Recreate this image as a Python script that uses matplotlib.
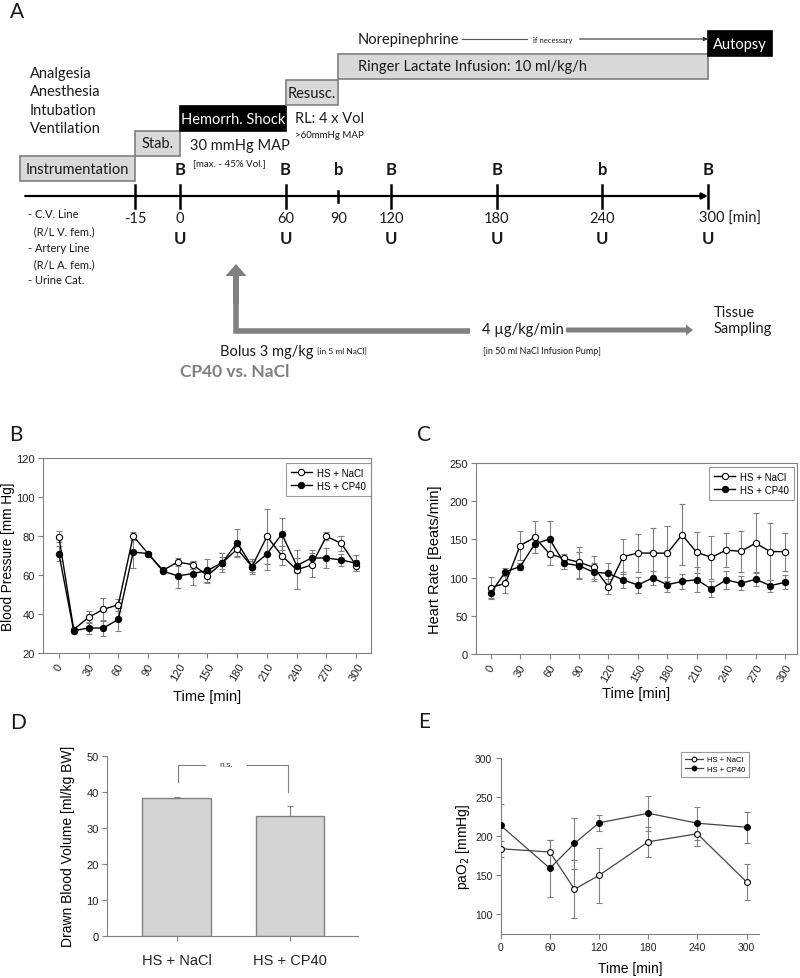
import matplotlib
matplotlib.use("Agg")
import matplotlib.pyplot as plt
from matplotlib.patches import Rectangle, FancyArrow
import numpy as np

# ---------------- panel A: protocol (time axis in minutes) ----------------
tl_pos = [-25.6, 0, 60, 90, 120, 180, 240, 300]  # -15 is drawn off-scale
tl_labels = ["-15", "0", "60", "90", "120", "180", "240", "300 [min]"]
blood_marks = ["", "B", "B", "b", "B", "B", "b", "B"]
urine_marks = ["", "U", "U", "", "U", "U", "U", "U"]

phase_names = ["Instrumentation", "Stab.", "Hemorrh. Shock", "Resusc.",
               "Ringer Lactate Infusion: 10 ml/kg/h", "Autopsy"]
phase_start = [-90.9, -25.6, 0, 60, 90, 300]
phase_end = [-25.6, 0, 60, 90, 300, 336.4]
phase_dark = [False, False, True, False, False, True]

prep_steps = ["Analgesia", "Anesthesia", "Intubation", "Ventilation"]
catheters = ["- C.V. Line", "  (R/L V. fem.)", "- Artery Line", "  (R/L A. fem.)", "- Urine Cat."]

# ---------------- panel B: blood pressure ----------------
bp_time = np.arange(0, 301, 15)
bp_nacl = [79.7, 32, 38.3, 42.4, 44.7, 80, 71, 62.4, 66.6, 65.3, 59.7,
           66.2, 73.3, 64.3, 79.8, 69.9, 62.7, 65.1, 79.8, 76.2, 64.8]
bp_nacl_err = [3, 1, 3, 6, 3, 2, 1, 1, 2, 2, 4, 3, 4, 3, 14, 5, 10, 6, 2, 4, 3]
bp_cp40 = [71, 31.4, 32.8, 32.8, 37.2, 71.7, 71, 62, 59.5, 60.7, 62.3,
           66.3, 76.6, 64.3, 70.8, 81, 64.8, 68.7, 68.7, 67.7, 66]
bp_cp40_err = [4, 1, 3, 4, 6, 8, 1, 1, 6, 6, 6, 5, 7, 4, 8, 8, 4, 4, 5, 3, 4]

# ---------------- panel C: heart rate ----------------
hr_time = np.arange(0, 301, 15)
hr_nacl = [87, 92.5, 142, 152.7, 131, 125, 120, 113.5, 88, 127.4, 132.2,
           132, 132, 156, 133, 126.5, 136, 134.4, 145, 134, 134]
hr_nacl_err = [14, 13, 19, 21, 15, 6, 20, 15, 10, 23, 25, 33, 36, 40, 27, 28, 22, 27, 39, 37, 25]
hr_cp40 = [79.4, 107.7, 114.3, 144, 150.5, 118.7, 115.6, 107, 105.6, 96.9, 90.3,
           99.5, 90.7, 95, 97.3, 85, 96.9, 92.5, 97.8, 89.4, 93.8]
hr_cp40_err = [7, 5, 5, 12, 24, 8, 18, 12, 13, 11, 10, 9, 10, 10, 16, 10, 12, 9, 9, 8, 9]

# ---------------- panel D: drawn blood volume ----------------
bv_groups = ["HS + NaCl", "HS + CP40"]
bv_mean = [38.2, 33.2]
bv_err = [0.4, 2.7]

# ---------------- panel E: paO2 ----------------
po2_time = [0, 60, 90, 120, 180, 240, 300]
po2_nacl = [183.9, 179.7, 132.2, 150, 192.8, 203, 141.5]
po2_nacl_err = [10, 16, 37, 35, 19, 16, 23]
po2_cp40 = [213.6, 158.9, 190.7, 217, 229.2, 216.5, 211.4]
po2_cp40_err = [28, 36, 33, 10, 22, 21, 20]

plt.rcParams["font.family"] = ["Liberation Sans", "DejaVu Sans"]
LATO = ["Lato", "DejaVu Sans"]
GRAY = "#808080"
INK = "#1a1a1a"


def draw_protocol(ax):
    ax.set_xlim(-102.3, 352.3)
    ax.set_ylim(390, 0)
    ax.axis("off")
    rows = [157, 132, 107, 81, 55, 32]
    for name, t0, t1, dark, top in zip(phase_names, phase_start, phase_end, phase_dark, rows):
        ax.add_patch(Rectangle((t0, top), t1 - t0, 25,
                               facecolor="black" if dark else "#d9d9d9",
                               edgecolor="black" if dark else "#7f7f7f", lw=1.2))
        if name.startswith("Ringer"):
            ax.text(t0 + 11, top + 12.5, name, ha="left", va="center",
                    fontsize=10.5, family=LATO, color=INK)
        else:
            ax.text((t0 + t1) / 2, top + 12.5, name, ha="center", va="center",
                    fontsize=10.5, family=LATO, color="white" if dark else INK)

    for i, step in enumerate(prep_steps):
        ax.text(-85.2, 74 + 18.3 * i, step, ha="left", va="center",
                fontsize=10.5, family=LATO, color=INK)

    ax.text(5.7, 146, "30 mmHg MAP", ha="left", va="center", fontsize=10.5, family=LATO, color=INK)
    ax.text(7.4, 164, "[max. - 45% Vol.]", ha="left", va="center", fontsize=7, family=LATO, color=INK)
    ax.text(65.3, 119, "RL: 4 x Vol", ha="left", va="center", fontsize=10.5, family=LATO, color=INK)
    ax.text(65.3, 136, ">60mmHg MAP", ha="left", va="center", fontsize=7, family=LATO, color=INK)

    # norepinephrine
    ax.text(101, 40, "Norepinephrine", ha="left", va="center", fontsize=10.5, family=LATO, color=INK)
    ax.plot([160, 197], [40, 40], color="#555555", lw=0.8)
    ax.text(212, 40, "if necessary", ha="center", va="center", fontsize=5.5, family=LATO, color=INK)
    ax.annotate("", xy=(300, 40), xytext=(227, 40),
                arrowprops=dict(arrowstyle="-|>", color="#333333", lw=0.8,
                                mutation_scale=6, shrinkA=0, shrinkB=0))

    # timeline
    ax.annotate("", xy=(300, 197), xytext=(-88, 197),
                arrowprops=dict(arrowstyle="-|>", color="black", lw=1.6,
                                mutation_scale=9, shrinkA=0, shrinkB=0))
    for pos, lab, bm, um in zip(tl_pos, tl_labels, blood_marks, urine_marks):
        half = 5.5 if pos == 90 else 11.5
        ax.plot([pos, pos], [197 - half, 197 + half], color="black", lw=1.8)
        if "[" in lab:
            ax.text(pos - 5.2, 219, lab, ha="left", va="center", fontsize=10.5, family=LATO, color=INK)
        else:
            ax.text(pos, 219, lab, ha="center", va="center", fontsize=10.5, family=LATO, color=INK)
        if bm:
            ax.text(pos, 170, bm, ha="center", va="center", fontsize=12,
                    fontweight="bold", family=LATO, color=INK)
        if um:
            ax.text(pos, 239, um, ha="center", va="center", fontsize=12,
                    fontweight="bold", family=LATO, color=INK)

    for i, line in enumerate(catheters):
        ax.text(-86.4, 215 + 16.5 * i, line, ha="left", va="center",
                fontsize=8, family=LATO, color=INK)

    # drug application arrows
    ax.plot([31.8, 31.8, 164.8], [300, 332, 332], color=GRAY, lw=4,
            solid_joinstyle="miter", solid_capstyle="butt")
    ax.add_patch(FancyArrow(31.8, 305, 0, -40, width=3.4, head_width=12, head_length=12,
                            length_includes_head=True, color=GRAY, lw=0))
    ax.text(171.6, 330, "4 µg/kg/min", ha="left", va="center", fontsize=10.5, family=LATO, color=INK)
    ax.add_patch(FancyArrow(219.3, 331, 72.2, 0, width=5, head_width=11, head_length=4,
                            length_includes_head=True, color=GRAY, lw=0))
    ax.text(303.4, 321, "Tissue\nSampling", ha="left", va="center", fontsize=10.5,
            family=LATO, color=INK, linespacing=1.25)
    ax.text(22.7, 352, "Bolus 3 mg/kg", ha="left", va="center", fontsize=10.5, family=LATO, color=INK)
    ax.text(77.8, 352, "[in 5 ml NaCl]", ha="left", va="center", fontsize=6, family=LATO, color=INK)
    ax.text(172, 352, "[in 50 ml NaCl Infusion Pump]", ha="left", va="center", fontsize=6.5,
            family=LATO, color=INK)
    ax.text(0, 372, "CP40 vs. NaCl", ha="left", va="center", fontsize=12.5,
            fontweight="bold", family=LATO, color="#7f7f7f")


def style_axes(ax, boxed=True):
    for side, sp in ax.spines.items():
        sp.set_color(GRAY)
        sp.set_linewidth(0.8)
        if not boxed and side in ("top", "right"):
            sp.set_visible(False)
    ax.tick_params(direction="out", length=3.5, width=0.8, color=GRAY, pad=2.5,
                   labelsize=8, labelcolor="#222222", top=False, right=False)


def draw_series(ax, t, nacl, nacl_err, cp40, cp40_err, ms=4.5, lw=1.0, lcolor="black"):
    ax.errorbar(t, nacl, yerr=nacl_err, fmt="none", ecolor=GRAY, elinewidth=0.8,
                capsize=2.2, capthick=0.8, zorder=1)
    ax.errorbar(t, cp40, yerr=cp40_err, fmt="none", ecolor=GRAY, elinewidth=0.8,
                capsize=2.2, capthick=0.8, zorder=1)
    ax.plot(t, nacl, color=lcolor, lw=lw, marker="o", ms=ms, mfc="white",
            mec="black", mew=0.8, label="HS + NaCl", zorder=3)
    ax.plot(t, cp40, color=lcolor, lw=lw, marker="o", ms=ms, mfc="black",
            mec="black", mew=0.8, label="HS + CP40", zorder=4)


def boxed_legend(ax, anchor, size, **kw):
    leg = ax.legend(loc="upper right", bbox_to_anchor=anchor, borderaxespad=0,
                    fontsize=size, fancybox=False, borderpad=0.5,
                    labelspacing=0.3, handletextpad=0.5, **kw)
    leg.get_frame().set_edgecolor(GRAY)
    leg.get_frame().set_linewidth(0.8)


def main():
    fig = plt.figure(figsize=(8, 9.79), dpi=100)

    ax_a = fig.add_axes([0, 1 - 390 / 979, 1, 390 / 979])
    draw_protocol(ax_a)

    # B
    ax_b = fig.add_axes([0.05375, 0.332, 0.41, 0.1992])
    draw_series(ax_b, bp_time, bp_nacl, bp_nacl_err, bp_cp40, bp_cp40_err)
    ax_b.set_xlim(-16, 315)
    ax_b.set_ylim(20, 120)
    ax_b.set_yticks(np.arange(20, 121, 20))
    ax_b.set_xticks(np.arange(0, 301, 30))
    style_axes(ax_b)
    plt.setp(ax_b.get_xticklabels(), rotation=60, ha="center")
    ax_b.set_xlabel("Time [min]", fontsize=10.5)
    ax_b.xaxis.set_label_coords(0.5, -0.185)
    ax_b.set_ylabel("Blood Pressure [mm Hg]", fontsize=9.8)
    ax_b.yaxis.set_label_coords(-0.084, 0.5)
    boxed_legend(ax_b, (0.999, 0.974), 7, handlelength=2.2)

    # C
    ax_c = fig.add_axes([0.595, 0.331, 0.401, 0.195])
    draw_series(ax_c, hr_time, hr_nacl, hr_nacl_err, hr_cp40, hr_cp40_err)
    ax_c.set_xlim(-15, 312)
    ax_c.set_ylim(0, 250)
    ax_c.set_yticks(np.arange(0, 251, 50))
    ax_c.set_xticks(np.arange(0, 301, 30))
    style_axes(ax_c)
    plt.setp(ax_c.get_xticklabels(), rotation=60, ha="center")
    ax_c.set_xlabel("Time [min]", fontsize=10.5)
    ax_c.xaxis.set_label_coords(0.5, -0.17)
    ax_c.set_ylabel("Heart Rate [Beats/min]", fontsize=10.5)
    ax_c.yaxis.set_label_coords(-0.106, 0.5)
    boxed_legend(ax_c, (0.991, 0.98), 7, handlelength=2.2)

    # D
    ax_d = fig.add_axes([0.134, 0.0432, 0.314, 0.1839])
    xpos = np.arange(len(bv_groups))
    ax_d.bar(xpos, bv_mean, width=0.6, color="#d4d4d4", edgecolor=GRAY, lw=1.0, zorder=2)
    ax_d.errorbar(xpos, bv_mean, yerr=[[0, 0], bv_err], fmt="none", ecolor=GRAY,
                  elinewidth=0.8, capsize=2.5, capthick=0.8, zorder=3)
    ax_d.set_xlim(-0.61, 1.6)
    ax_d.set_ylim(0, 50)
    ax_d.set_yticks(np.arange(0, 51, 10))
    ax_d.set_xticks(xpos)
    ax_d.set_xticklabels(bv_groups)
    style_axes(ax_d, boxed=False)
    ax_d.tick_params(axis="x", labelsize=10.5, pad=9)
    ax_d.set_ylabel("Drawn Blood Volume [ml/kg BW]", fontsize=10)
    ax_d.yaxis.set_label_coords(-0.127, 0.5)
    # n.s. bracket
    ax_d.plot([0.01, 0.01, 0.25], [42.6, 47.5, 47.5], color=GRAY, lw=0.8, clip_on=False)
    ax_d.plot([0.62, 0.98, 0.98], [47.5, 47.5, 40], color=GRAY, lw=0.8, clip_on=False)
    ax_d.text(0.44, 47.6, "n.s.", ha="center", va="center", fontsize=6, color="#333333")

    # E
    ax_e = fig.add_axes([0.6259, 0.0449, 0.3227, 0.180])
    draw_series(ax_e, po2_time, po2_nacl, po2_nacl_err, po2_cp40, po2_cp40_err,
                ms=4.2, lw=0.9, lcolor="#444444")
    ax_e.set_xlim(0, 315)
    ax_e.set_ylim(75, 300)
    ax_e.set_xticks(np.arange(0, 301, 60))
    ax_e.set_yticks(np.arange(100, 301, 50))
    style_axes(ax_e, boxed=False)
    ax_e.tick_params(labelsize=7.5)
    ax_e.set_xlabel("Time [min]", fontsize=10)
    ax_e.xaxis.set_label_coords(0.5, -0.155)
    ax_e.set_ylabel("paO$_2$ [mmHg]", fontsize=10)
    ax_e.yaxis.set_label_coords(-0.111, 0.5)
    boxed_legend(ax_e, (0.962, 1.032), 5.5, handlelength=2.4, markerscale=0.8)

    # panel letters
    for letter, x, y in [("A", 17, 12), ("B", 16, 435), ("C", 424, 435),
                         ("D", 18, 723), ("E", 424, 722)]:
        fig.text(x / 800, 1 - y / 979, letter, ha="center", va="center",
                 fontsize=15, family=LATO, color=INK)

    fig.savefig("out.png", dpi=100)


if __name__ == "__main__":
    main()
